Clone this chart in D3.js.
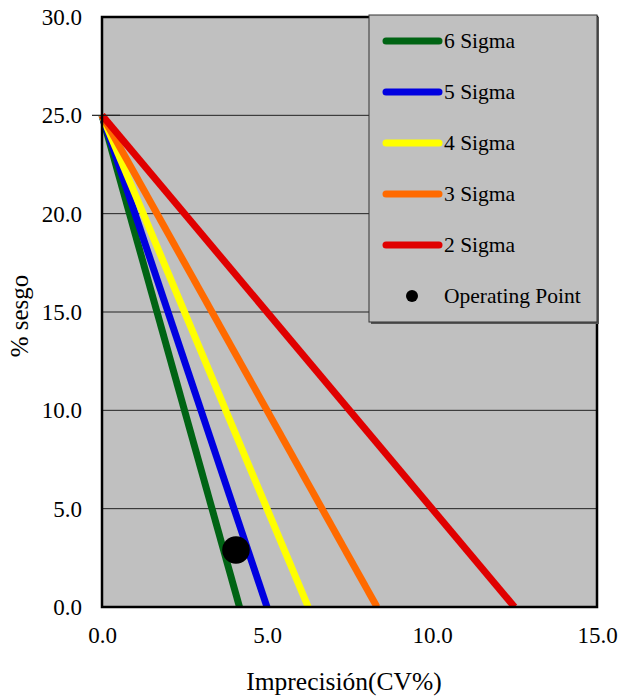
<!DOCTYPE html>
<html><head><meta charset="utf-8">
<script src="https://cdn.jsdelivr.net/npm/d3@7"></script>
<style>body{margin:0;background:#fff}svg{display:block}</style>
</head><body><svg id="c" width="627" height="698"></svg>
<script>
const sigmaLevels = [6, 5, 4, 3, 2];
const seriesNames = ["6 Sigma", "5 Sigma", "4 Sigma", "3 Sigma", "2 Sigma"];
const seriesColors = ["#006414", "#0000e0", "#ffff00", "#ff6a00", "#e00000"];
const tea = 25;
const operatingPoint = [4.06, 2.9];
const xTicks = [0, 5, 10, 15];
const yTicks = [0, 5, 10, 15, 20, 25, 30];

const svg = d3.select("#c");
const font = "'Liberation Serif','Times New Roman',serif";
const m = {l: 102, r: 597, t: 17, b: 607};
const x = d3.scaleLinear().domain([0, 15]).range([m.l, m.r]);
const y = d3.scaleLinear().domain([0, 30]).range([m.b, m.t]);

svg.append("rect").attr("x", m.l).attr("y", m.t).attr("width", m.r - m.l).attr("height", m.b - m.t).attr("fill", "#c0c0c0");

svg.append("g").selectAll("line").data(yTicks.filter(d => d > 0 && d < 30)).join("line")
  .attr("x1", m.l).attr("x2", m.r).attr("y1", d => y(d)).attr("y2", d => y(d))
  .attr("stroke", "#222").attr("stroke-width", 1);

svg.append("clipPath").attr("id", "pc").append("rect")
  .attr("x", m.l - 4).attr("y", m.t).attr("width", m.r - m.l + 4).attr("height", m.b - m.t);

const lines = sigmaLevels.map((s, i) => ({name: seriesNames[i], color: seriesColors[i], pts: [[0, tea], [tea / s, 0]]}));
const lineGen = d3.line().x(d => x(d[0])).y(d => y(d[1]));
svg.append("g").attr("clip-path", "url(#pc)").selectAll("path").data(lines).join("path")
  .attr("d", d => lineGen(d.pts)).attr("stroke", d => d.color).attr("stroke-width", 7).attr("fill", "none");

svg.append("line").attr("x1", m.l - 10).attr("x2", m.l + 18).attr("y1", y(25)).attr("y2", y(25)).attr("stroke", "#222").attr("stroke-width", 1.2);

svg.append("circle").attr("cx", x(operatingPoint[0])).attr("cy", y(operatingPoint[1])).attr("r", 13.8).attr("fill", "#000");

svg.append("rect").attr("x", m.l).attr("y", m.t).attr("width", m.r - m.l).attr("height", m.b - m.t)
  .attr("fill", "none").attr("stroke", "#000").attr("stroke-width", 2.5);

const xAxis = svg.append("g").attr("transform", `translate(0,${m.b})`)
  .call(d3.axisBottom(x).tickValues(xTicks).tickFormat(d3.format(".1f")).tickSize(0).tickPadding(20));
xAxis.attr("font-family", font).attr("font-size", 23);
xAxis.select(".domain").remove();
xAxis.selectAll("text").style("font-family", font).style("font-size", "23px").attr("fill", "#000");
const yAxis = svg.append("g").attr("transform", `translate(${m.l},0)`)
  .call(d3.axisLeft(y).tickValues(yTicks).tickFormat(d3.format(".1f")).tickSize(0).tickPadding(20));
yAxis.attr("font-family", font).attr("font-size", 23);
yAxis.select(".domain").remove();
yAxis.selectAll("text").style("font-family", font).style("font-size", "23px").attr("fill", "#000");

svg.append("text").attr("x", 344).attr("y", 690).attr("text-anchor", "middle")
  .attr("font-family", font).attr("font-size", 25.5).text("Imprecisión(CV%)");
svg.append("text").attr("transform", `translate(28,316) rotate(-90)`).attr("text-anchor", "middle")
  .attr("font-family", font).attr("font-size", 25).text("% sesgo");

const lg = svg.append("g");
lg.append("rect").attr("x", 371).attr("y", 17).attr("width", 228).attr("height", 307).attr("fill", "#555");
lg.append("rect").attr("x", 369).attr("y", 15).attr("width", 228).attr("height", 307).attr("fill", "#c0c0c0").attr("stroke", "#333").attr("stroke-width", 1);
const rowY = i => 41 + i * 51;
lines.forEach((d, i) => {
  lg.append("line").attr("x1", 386).attr("x2", 439).attr("y1", rowY(i)).attr("y2", rowY(i))
    .attr("stroke", d.color).attr("stroke-width", 7).attr("stroke-linecap", "round");
  lg.append("text").attr("x", 444).attr("y", rowY(i) + 7).attr("font-family", font).attr("font-size", 21.5).text(d.name);
});
lg.append("circle").attr("cx", 412).attr("cy", rowY(5)).attr("r", 6).attr("fill", "#000");
lg.append("text").attr("x", 444).attr("y", rowY(5) + 7).attr("font-family", font).attr("font-size", 21.5).text("Operating Point");
</script></body></html>
